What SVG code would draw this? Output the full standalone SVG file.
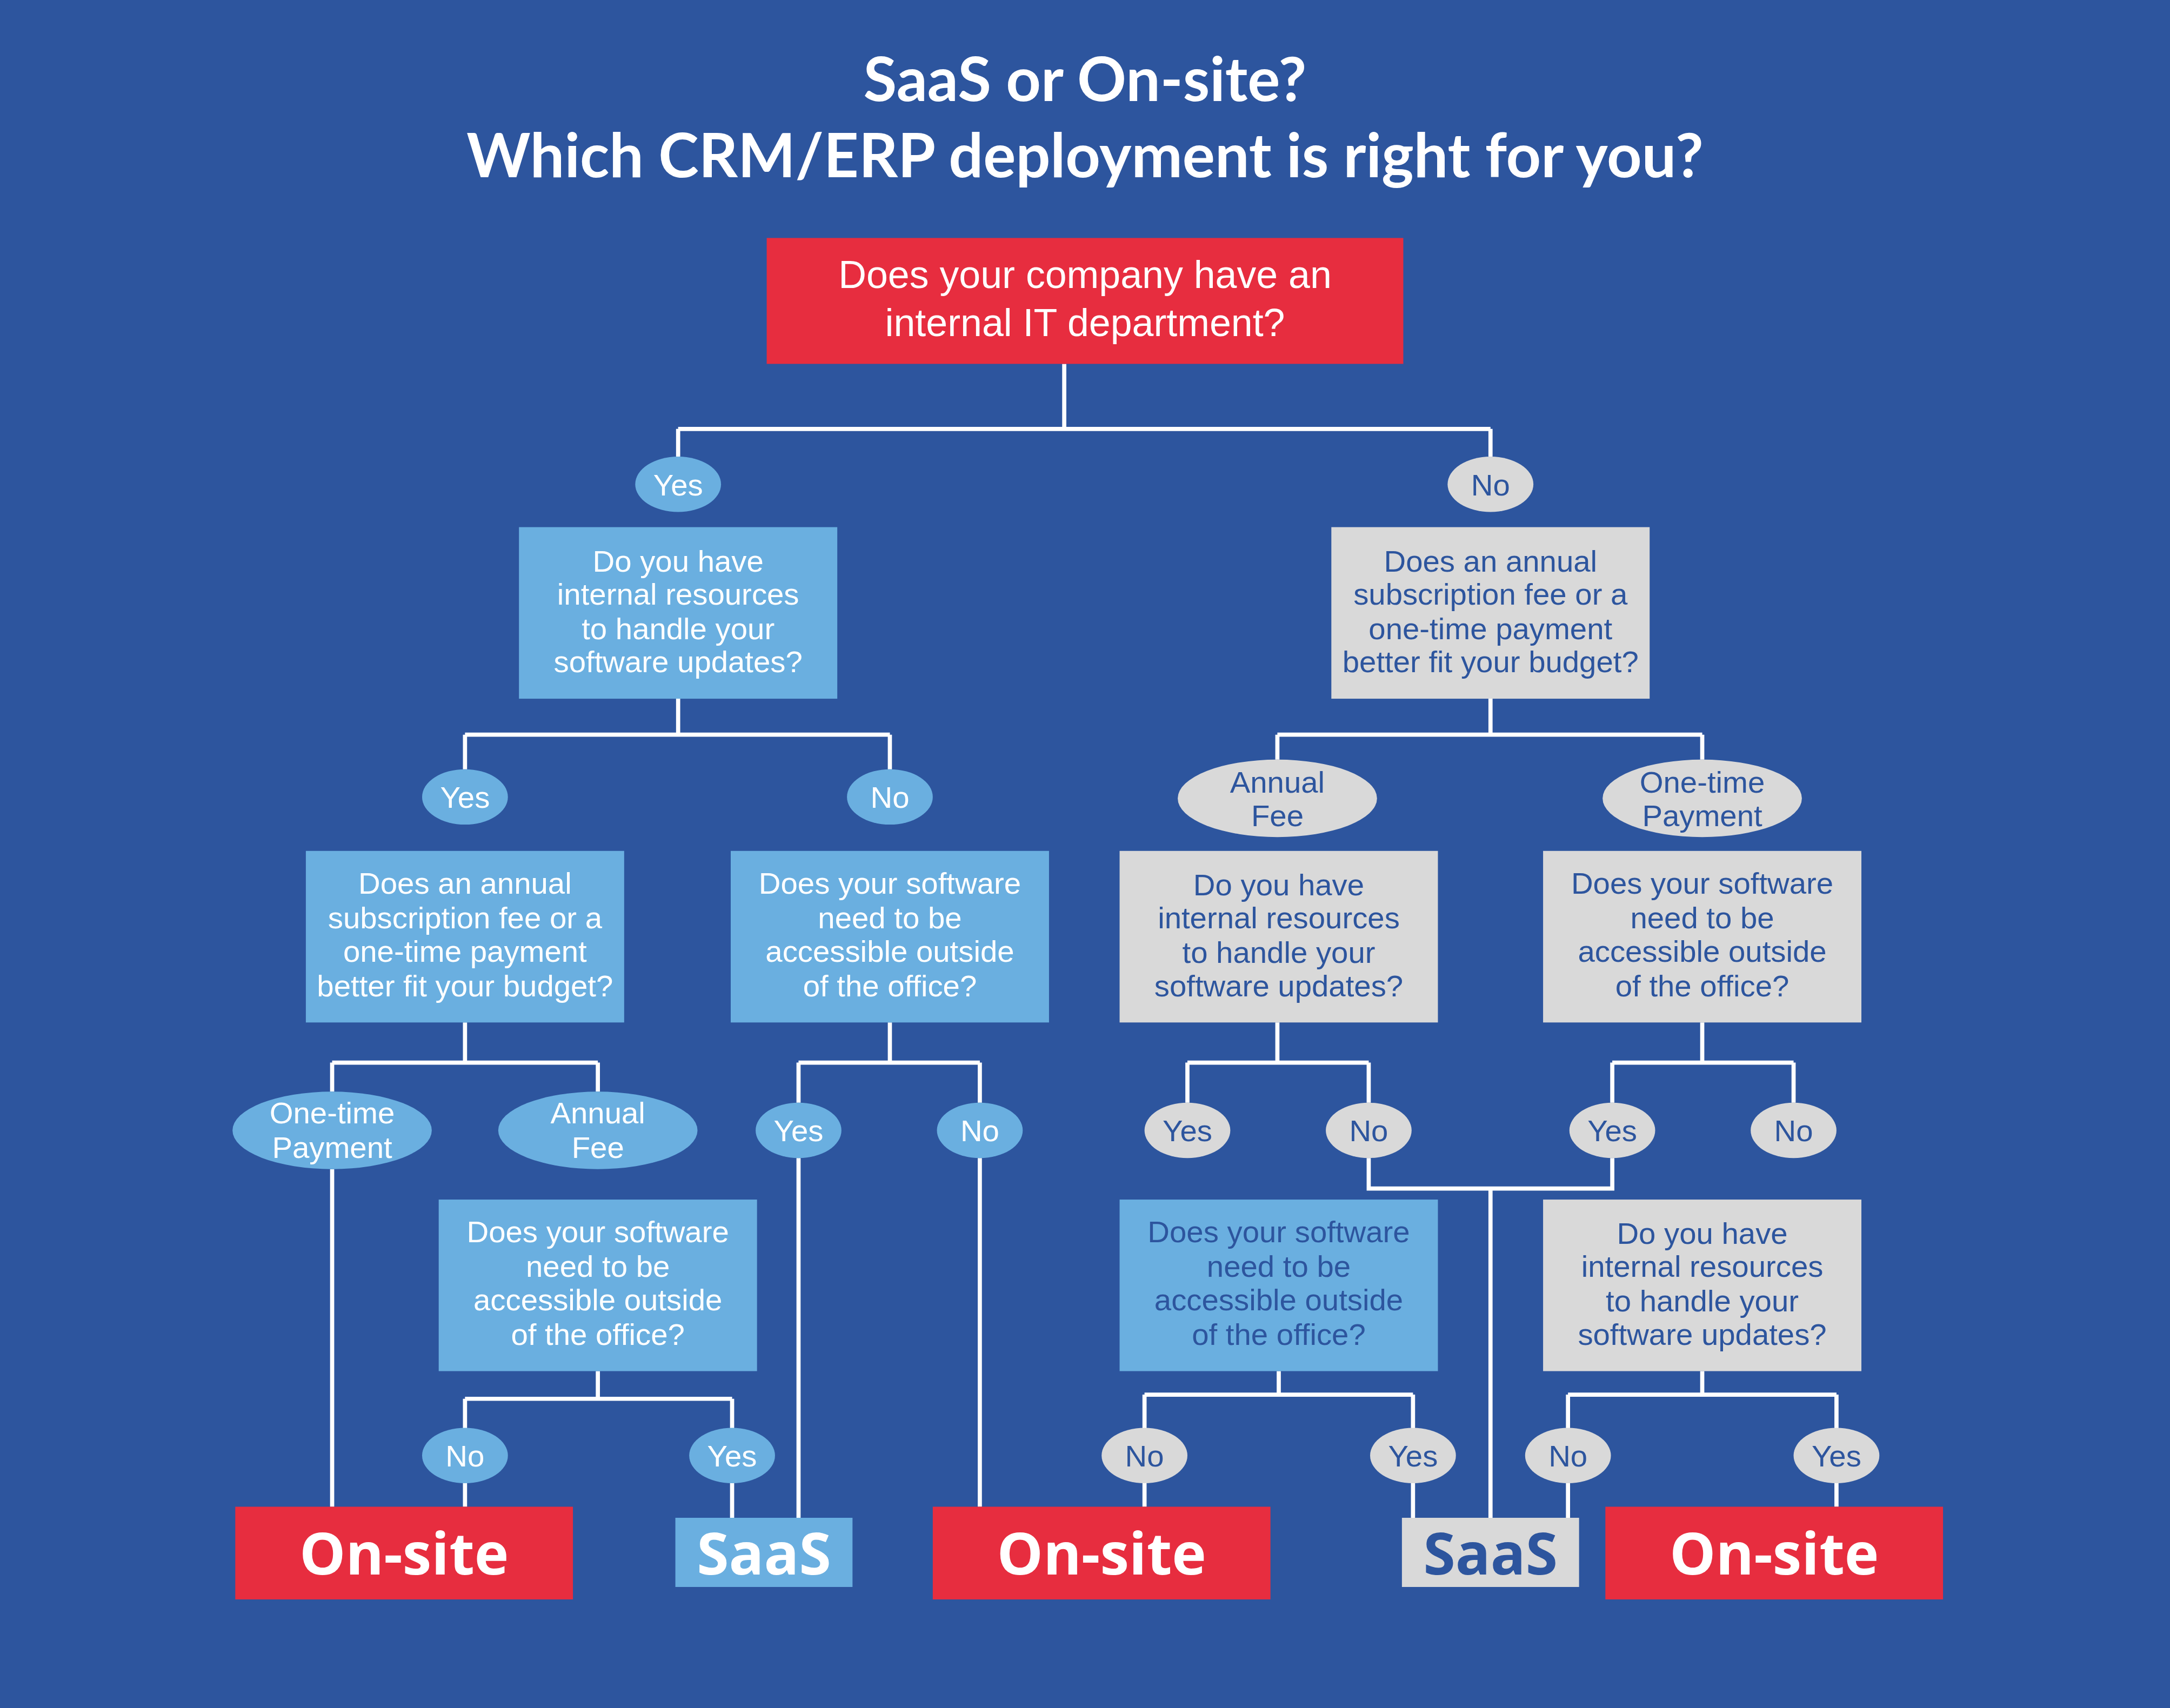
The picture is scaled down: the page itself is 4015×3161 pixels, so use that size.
<svg xmlns="http://www.w3.org/2000/svg" width="4015" height="3161" viewBox="0 0 4015 3161">
<style>
.bg{fill:#2D559E}
.red{fill:#E72D3F}
.blue{fill:#6AAFE0}
.grey{fill:#D9D9D9}
.ln{fill:none;stroke:#fff;stroke-width:3}
text{font-family:"Liberation Sans",Arial,sans-serif;text-anchor:middle}
.t{font-size:22px}
.w{fill:#fff}
.d{fill:#2D559E}
.title{font-family:Lato,"Open Sans",sans-serif;font-weight:bold;font-size:44px;fill:#fff}
.big{font-family:"Open Sans",Lato,sans-serif;font-weight:bold;font-size:42px}
</style>
<rect class="bg" width="4015" height="3161"/>
<g transform="scale(2.5606)">
<g id="title">
<text class="title" x="784" y="73">SaaS or On-site?</text>
<text class="title" x="784" y="128">Which CRM/ERP deployment is right for you?</text>
</g>
<g id="connectors">
<path class="ln" d="M769 263V310M490 310H1077M490 310V330M1077 310V330"/>
<path class="ln" d="M490 505V531M336 531H643M336 531V556M643 531V556"/>
<path class="ln" d="M1077 505V531M923 531H1230M923 531V549M1230 531V549"/>
<path class="ln" d="M336 739V768M240 768H432M240 768V789M432 768V789"/>
<path class="ln" d="M643 739V768M577 768H708M577 768V797M708 768V797"/>
<path class="ln" d="M923 739V768M858 768H989M858 768V797M989 768V797"/>
<path class="ln" d="M1230 739V768M1165 768H1296M1165 768V797M1296 768V797"/>
<path class="ln" d="M240 845V1089M577 837V1097M708 837V1089"/>
<path class="ln" d="M989 837V859H1165V837M1077 859V1097"/>
<path class="ln" d="M432 991V1011M336 1011H529M336 1011V1089M529 1011V1097"/>
<path class="ln" d="M924 991V1008M827 1008H1021M827 1008V1089M1021 1008V1097"/>
<path class="ln" d="M1230 991V1008M1133 1008H1327M1133 1008V1097M1327 1008V1089"/>
</g>
<g id="n_root"><rect class="red" x="554" y="172" width="460" height="91"/>
<text class="w" style="font-size:28px" x="784" y="208">Does your company have an</text>
<text class="w" style="font-size:28px" x="784" y="243">internal IT department?</text></g>
<g id="o_yes1"><ellipse class="blue" cx="490" cy="350" rx="31" ry="20"/><text class="t w" x="490" y="358">Yes</text></g>
<g id="o_no1"><ellipse class="grey" cx="1077" cy="350" rx="31" ry="20"/><text class="t d" x="1077" y="358">No</text></g>
<g id="n_res1"><rect class="blue" x="375" y="381" width="230" height="124"/>
<text class="t w" x="490" y="413">Do you have</text><text class="t w" x="490" y="437">internal resources</text><text class="t w" x="490" y="462">to handle your</text><text class="t w" x="490" y="486">software updates?</text></g>
<g id="n_fee1"><rect class="grey" x="962" y="381" width="230" height="124"/>
<text class="t d" x="1077" y="413">Does an annual</text><text class="t d" x="1077" y="437">subscription fee or a</text><text class="t d" x="1077" y="462">one-time payment</text><text class="t d" x="1077" y="486">better fit your budget?</text></g>
<g id="o_yes2"><ellipse class="blue" cx="336" cy="576" rx="31" ry="20"/><text class="t w" x="336" y="584">Yes</text></g>
<g id="o_no2"><ellipse class="blue" cx="643" cy="576" rx="31" ry="20"/><text class="t w" x="643" y="584">No</text></g>
<g id="o_af1"><ellipse class="grey" cx="923" cy="577" rx="72" ry="28"/><text class="t d" x="923" y="573">Annual</text><text class="t d" x="923" y="597">Fee</text></g>
<g id="o_otp1"><ellipse class="grey" cx="1230" cy="577" rx="72" ry="28"/><text class="t d" x="1230" y="573">One-time</text><text class="t d" x="1230" y="597">Payment</text></g>
<g id="n_fee2"><rect class="blue" x="221" y="615" width="230" height="124"/>
<text class="t w" x="336" y="646">Does an annual</text><text class="t w" x="336" y="671">subscription fee or a</text><text class="t w" x="336" y="695">one-time payment</text><text class="t w" x="336" y="720">better fit your budget?</text></g>
<g id="n_acc1"><rect class="blue" x="528" y="615" width="230" height="124"/>
<text class="t w" x="643" y="646">Does your software</text><text class="t w" x="643" y="671">need to be</text><text class="t w" x="643" y="695">accessible outside</text><text class="t w" x="643" y="720">of the office?</text></g>
<g id="n_res2"><rect class="grey" x="809" y="615" width="230" height="124"/>
<text class="t d" x="924" y="647">Do you have</text><text class="t d" x="924" y="671">internal resources</text><text class="t d" x="924" y="696">to handle your</text><text class="t d" x="924" y="720">software updates?</text></g>
<g id="n_acc2"><rect class="grey" x="1115" y="615" width="230" height="124"/>
<text class="t d" x="1230" y="646">Does your software</text><text class="t d" x="1230" y="671">need to be</text><text class="t d" x="1230" y="695">accessible outside</text><text class="t d" x="1230" y="720">of the office?</text></g>
<g id="o_otp2"><ellipse class="blue" cx="240" cy="817" rx="72" ry="28"/><text class="t w" x="240" y="812">One-time</text><text class="t w" x="240" y="837">Payment</text></g>
<g id="o_af2"><ellipse class="blue" cx="432" cy="817" rx="72" ry="28"/><text class="t w" x="432" y="812">Annual</text><text class="t w" x="432" y="837">Fee</text></g>
<g id="o_yes3"><ellipse class="blue" cx="577" cy="817" rx="31" ry="20"/><text class="t w" x="577" y="825">Yes</text></g>
<g id="o_no3"><ellipse class="blue" cx="708" cy="817" rx="31" ry="20"/><text class="t w" x="708" y="825">No</text></g>
<g id="o_yes4"><ellipse class="grey" cx="858" cy="817" rx="31" ry="20"/><text class="t d" x="858" y="825">Yes</text></g>
<g id="o_no4"><ellipse class="grey" cx="989" cy="817" rx="31" ry="20"/><text class="t d" x="989" y="825">No</text></g>
<g id="o_yes5"><ellipse class="grey" cx="1165" cy="817" rx="31" ry="20"/><text class="t d" x="1165" y="825">Yes</text></g>
<g id="o_no5"><ellipse class="grey" cx="1296" cy="817" rx="31" ry="20"/><text class="t d" x="1296" y="825">No</text></g>
<g id="n_acc3"><rect class="blue" x="317" y="867" width="230" height="124"/>
<text class="t w" x="432" y="898">Does your software</text><text class="t w" x="432" y="923">need to be</text><text class="t w" x="432" y="947">accessible outside</text><text class="t w" x="432" y="972">of the office?</text></g>
<g id="n_acc4"><rect class="blue" x="809" y="867" width="230" height="124"/>
<text class="t d" x="924" y="898">Does your software</text><text class="t d" x="924" y="923">need to be</text><text class="t d" x="924" y="947">accessible outside</text><text class="t d" x="924" y="972">of the office?</text></g>
<g id="n_res3"><rect class="grey" x="1115" y="867" width="230" height="124"/>
<text class="t d" x="1230" y="899">Do you have</text><text class="t d" x="1230" y="923">internal resources</text><text class="t d" x="1230" y="948">to handle your</text><text class="t d" x="1230" y="972">software updates?</text></g>
<g id="o_no6"><ellipse class="blue" cx="336" cy="1052" rx="31" ry="20"/><text class="t w" x="336" y="1060">No</text></g>
<g id="o_yes6"><ellipse class="blue" cx="529" cy="1052" rx="31" ry="20"/><text class="t w" x="529" y="1060">Yes</text></g>
<g id="o_no7"><ellipse class="grey" cx="827" cy="1052" rx="31" ry="20"/><text class="t d" x="827" y="1060">No</text></g>
<g id="o_yes7"><ellipse class="grey" cx="1021" cy="1052" rx="31" ry="20"/><text class="t d" x="1021" y="1060">Yes</text></g>
<g id="o_no8"><ellipse class="grey" cx="1133" cy="1052" rx="31" ry="20"/><text class="t d" x="1133" y="1060">No</text></g>
<g id="o_yes8"><ellipse class="grey" cx="1327" cy="1052" rx="31" ry="20"/><text class="t d" x="1327" y="1060">Yes</text></g>
<g id="r_onsite1"><rect class="red" x="170" y="1089" width="244" height="67"/><text class="big w" x="292" y="1138">On-site</text></g>
<g id="r_saas1"><rect class="blue" x="488" y="1097" width="128" height="50"/><text class="big w" x="552" y="1138">SaaS</text></g>
<g id="r_onsite2"><rect class="red" x="674" y="1089" width="244" height="67"/><text class="big w" x="796" y="1138">On-site</text></g>
<g id="r_saas2"><rect class="grey" x="1013" y="1097" width="128" height="50"/><text class="big d" x="1077" y="1138">SaaS</text></g>
<g id="r_onsite3"><rect class="red" x="1160" y="1089" width="244" height="67"/><text class="big w" x="1282" y="1138">On-site</text></g>
</g>
</svg>
